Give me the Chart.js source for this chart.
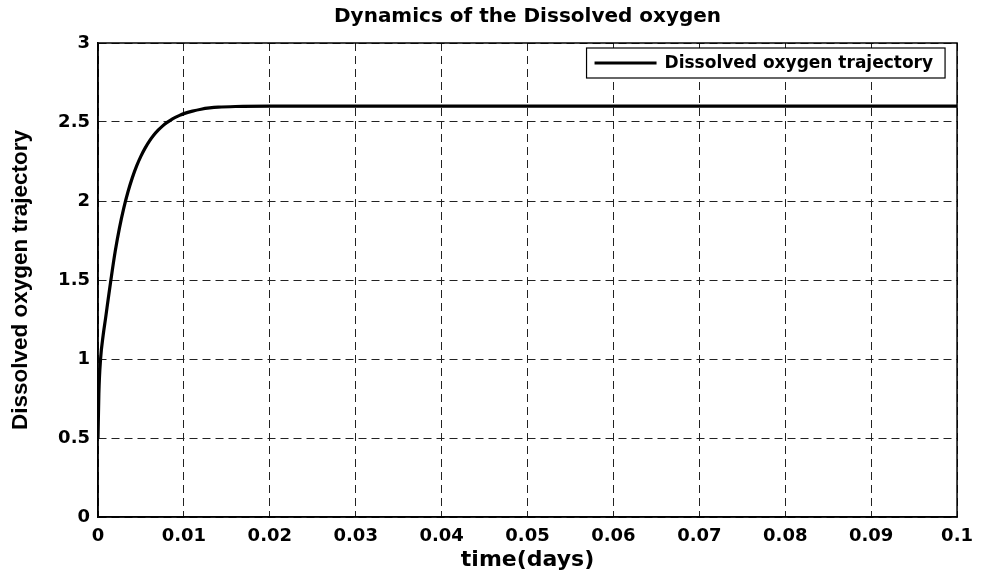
<!DOCTYPE html>
<html>
<head>
<meta charset="utf-8">
<script src="https://cdn.jsdelivr.net/npm/chart.js@4.4.1/dist/chart.umd.min.js"></script>
<style>
  html, body { margin: 0; padding: 0; background: #ffffff; }
  canvas { display: block; }
</style>
</head>
<body>
<canvas id="c" width="982" height="574"></canvas>
<script>
// ---- data ----
const chartTitle = 'Dynamics of the Dissolved oxygen';
const seriesLabel = 'Dissolved oxygen trajectory';
const xAxisTitle = 'time(days)';
const yAxisTitle = 'Dissolved oxygen trajectory';

const xTickValues = [0, 0.01, 0.02, 0.03, 0.04, 0.05, 0.06, 0.07, 0.08, 0.09, 0.1];
const xTickLabels = ['0', '0.01', '0.02', '0.03', '0.04', '0.05', '0.06', '0.07', '0.08', '0.09', '0.1'];
const yTickValues = [0, 0.5, 1, 1.5, 2, 2.5, 3];
const yTickLabels = ['0', '0.5', '1', '1.5', '2', '2.5', '3'];

const timeDays = [0, 0.0001, 0.0003, 0.0006, 0.0009, 0.0012, 0.0015, 0.002, 0.0025, 0.003,
                  0.0035, 0.004, 0.0045, 0.005, 0.0055, 0.006, 0.0065, 0.007, 0.0075, 0.008,
                  0.0085, 0.009, 0.0095, 0.010, 0.011, 0.012, 0.013, 0.014, 0.016, 0.02,
                  0.03, 0.04, 0.06, 0.08, 0.1];
const dissolvedOxygen = [0.5, 0.78, 1.0, 1.15, 1.265, 1.385, 1.5, 1.68, 1.83, 1.955,
                         2.06, 2.148, 2.222, 2.284, 2.336, 2.38, 2.417, 2.448, 2.474, 2.496,
                         2.514, 2.529, 2.542, 2.553, 2.569, 2.581, 2.589, 2.594, 2.598, 2.6,
                         2.6, 2.6, 2.6, 2.6, 2.6];

// ---- plugin: axes box + matlab-like legend ----
const boxAndLegend = {
  id: 'boxAndLegend',
  afterDatasetsDraw(chart) {
    const ctx = chart.ctx;
    const a = chart.chartArea;
    ctx.save();
    ctx.strokeStyle = '#000';
    ctx.lineWidth = 1.5;
    ctx.setLineDash([]);
    ctx.strokeRect(a.left, a.top, a.right - a.left, a.bottom - a.top);

    // legend
    const ds = chart.data.datasets[0];
    ctx.font = 'bold 17px "DejaVu Sans"';
    const tw = ctx.measureText(ds.label).width;
    const padL = 8, lineLen = 62, gap = 8, padR = 12, h = 30;
    const w = padL + lineLen + gap + tw + padR;
    const right = a.right - 12;
    const left = right - w;
    const top = a.top + 5;
    ctx.fillStyle = '#fff';
    ctx.fillRect(left, top, w, h);
    ctx.lineWidth = 1.2;
    ctx.strokeRect(left, top, w, h);
    ctx.beginPath();
    ctx.lineWidth = 3;
    ctx.moveTo(left + padL, top + h / 2);
    ctx.lineTo(left + padL + lineLen, top + h / 2);
    ctx.stroke();
    ctx.fillStyle = '#000';
    ctx.textBaseline = 'middle';
    ctx.textAlign = 'left';
    ctx.fillText(ds.label, left + padL + lineLen + gap, top + h / 2 + 1);
    ctx.restore();
  }
};

const gridStyle = {
  color: '#222',
  lineWidth: 1,
  drawTicks: false
};

new Chart(document.getElementById('c'), {
  type: 'line',
  data: {
    datasets: [{
      label: seriesLabel,
      data: timeDays.map((t, i) => ({ x: t, y: dissolvedOxygen[i] })),
      borderColor: '#000',
      backgroundColor: '#000',
      borderWidth: 3.2,
      pointRadius: 0,
      cubicInterpolationMode: 'monotone',
      fill: false
    }]
  },
  options: {
    responsive: false,
    animation: false,
    devicePixelRatio: 1,
    layout: { padding: { left: 0, right: 18, top: 0, bottom: 0 } },
    plugins: {
      legend: { display: false },
      tooltip: { enabled: false },
      title: {
        display: true,
        fullSize: false,
        text: chartTitle,
        color: '#000',
        font: { family: 'DejaVu Sans', size: 20, weight: 'bold', lineHeight: 1.2 },
        padding: { top: 5, bottom: 14 }
      }
    },
    scales: {
      x: {
        type: 'linear',
        min: 0,
        max: 0.1,
        afterBuildTicks: s => { s.ticks = xTickValues.map(v => ({ value: v })); },
        afterFit: s => { s.height = 57; },
        ticks: {
          color: '#000',
          font: { family: 'DejaVu Sans', size: 18, weight: 'bold' },
          padding: 9,
          maxRotation: 0,
          autoSkip: false,
          callback: (v, i) => xTickLabels[i]
        },
        grid: Object.assign({}, gridStyle),
        border: { display: true, color: '#000', width: 1.5, dash: [8, 5] },
        title: {
          display: true,
          text: xAxisTitle,
          color: '#000',
          font: { family: 'DejaVu Sans', size: 22, weight: 'bold', lineHeight: 1.2 },
          padding: { top: 0, bottom: 1 }
        }
      },
      y: {
        type: 'linear',
        min: 0,
        max: 3,
        afterBuildTicks: s => { s.ticks = yTickValues.map(v => ({ value: v })); },
        afterFit: s => { s.width = 98; },
        ticks: {
          color: '#000',
          font: { family: 'DejaVu Sans', size: 18, weight: 'bold' },
          padding: 8,
          autoSkip: false,
          callback: (v, i) => yTickLabels[i]
        },
        grid: Object.assign({}, gridStyle),
        border: { display: true, color: '#000', width: 1.5, dash: [8, 5] },
        title: {
          display: true,
          text: yAxisTitle,
          color: '#000',
          font: { family: 'Liberation Sans', size: 22.5, weight: 'bold', lineHeight: 1.2 },
          padding: { top: 7, bottom: 0 }
        }
      }
    }
  },
  plugins: [boxAndLegend]
});
</script>
</body>
</html>
